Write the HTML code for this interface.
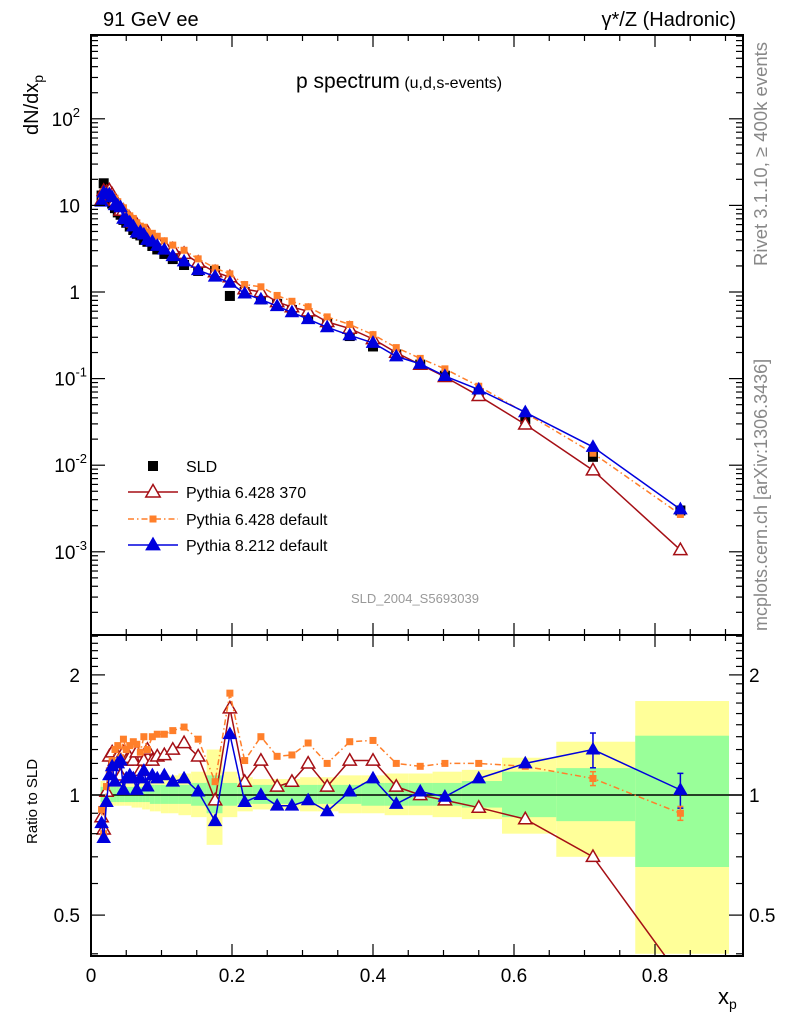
<!DOCTYPE html>
<html><head><meta charset="utf-8"><style>
body{margin:0;background:#fff}
svg{display:block;font-family:"Liberation Sans",sans-serif}
</style></head><body>
<svg id="c" width="786" height="1024" viewBox="0 0 786 1024"></svg>
<script>
const xs=[0.015,0.018,0.022,0.026,0.030,0.034,0.038,0.042,0.046,0.050,0.055,0.060,0.065,0.070,0.075,0.080,0.087,0.094,0.104,0.116,0.132,0.152,0.176,0.197,0.218,0.241,0.264,0.285,0.308,0.335,0.367,0.400,0.433,0.467,0.502,0.550,0.616,0.712,0.836];
const sld=[13,18,14,12,10.5,9.3,8.3,7.8,6.8,6.3,5.7,5.2,4.7,4.5,4.0,3.8,3.4,3.1,2.75,2.4,2.05,1.75,1.75,0.9,1.0,0.82,0.73,0.62,0.5,0.43,0.31,0.235,0.19,0.145,0.108,0.068,0.034,0.0125,0.003];
const rOrange=[0.92,0.80,1.05,1.15,1.22,1.30,1.33,1.24,1.38,1.30,1.33,1.36,1.34,1.28,1.40,1.30,1.40,1.42,1.42,1.45,1.48,1.38,1.08,1.80,1.22,1.40,1.25,1.26,1.35,1.20,1.36,1.37,1.20,1.18,1.20,1.20,1.18,1.10,0.90];
const rRed=[0.88,0.82,1.02,1.25,1.28,1.22,1.25,1.12,1.28,1.22,1.24,1.22,1.28,1.15,1.22,1.30,1.22,1.25,1.26,1.30,1.35,1.25,0.97,1.65,1.08,1.22,1.05,1.08,1.20,1.05,1.22,1.22,1.05,1.00,0.97,0.93,0.87,0.70,0.35];
const rBlue=[0.85,0.78,0.96,1.12,1.18,1.08,1.20,1.22,1.03,1.10,1.12,1.10,1.03,1.10,1.15,1.05,1.12,1.10,1.12,1.08,1.10,1.02,0.86,1.42,0.96,1.00,0.94,0.94,0.97,0.91,1.02,1.10,0.95,1.02,0.99,1.10,1.20,1.30,1.03];
const errTot=[0.07,0.07,0.06,0.06,0.06,0.06,0.06,0.06,0.06,0.06,0.06,0.07,0.07,0.07,0.08,0.08,0.09,0.09,0.10,0.10,0.11,0.12,0.25,0.12,0.09,0.08,0.08,0.08,0.09,0.09,0.10,0.10,0.11,0.11,0.12,0.13,0.20,0.30,0.60];
const errStat=[0.04,0.04,0.04,0.04,0.04,0.04,0.04,0.04,0.04,0.04,0.04,0.04,0.04,0.04,0.04,0.04,0.05,0.05,0.05,0.05,0.05,0.06,0.10,0.06,0.05,0.05,0.05,0.05,0.05,0.05,0.05,0.06,0.06,0.06,0.06,0.07,0.12,0.14,0.34];
const xTicks=[0,0.2,0.4,0.6,0.8];
const xTickLabels=["0","0.2","0.4","0.6","0.8"];
const yExps=[2,1,0,-1,-2,-3];
const rTicks=[2,1,0.5];
const rTickLabels=["2","1","0.5"];

const L=91,R=743,T=35,M=635,B=956;
const X=v=>L+v*705;
const Y=v=>292-86.6*Math.log10(v);
const RY=v=>795-399*Math.log10(v);
const svg=document.getElementById('c');
const NS='http://www.w3.org/2000/svg';
function mk(tag,at,parent){const e=document.createElementNS(NS,tag);for(const k in at)e.setAttribute(k,at[k]);(parent||svg).appendChild(e);return e;}
function txt(s,x,y,size,extra,parent){const e=mk('text',Object.assign({x:x,y:y,'font-size':size},extra||{}),parent);e.innerHTML=s;return e;}

const defs=mk('defs',{});
const cp1=mk('clipPath',{id:'cm'},defs);mk('rect',{x:L,y:T,width:R-L,height:M-T},cp1);
const cp2=mk('clipPath',{id:'cr'},defs);mk('rect',{x:L,y:M,width:R-L,height:B-M},cp2);

const edges=[0.0135];
for(let i=0;i<xs.length-1;i++)edges.push((xs[i]+xs[i+1])/2);
edges.push(0.905);
edges[edges.length-2]=0.772;edges[edges.length-3]=0.66;

const gb=mk('g',{'clip-path':'url(#cr)'});

for(let i=0;i<xs.length;i++){
  const x0=X(edges[i]),x1=X(edges[i+1]);
  let r=mk('rect',{x:x0,y:RY(1+errTot[i]*1.2),width:x1-x0,height:RY(1-errTot[i])-RY(1+errTot[i]*1.2),fill:'#ffff99'},gb);
  
}
for(let i=0;i<xs.length;i++){
  const x0=X(edges[i]),x1=X(edges[i+1]);
  let r=mk('rect',{x:x0,y:RY(1+errStat[i]*1.2),width:x1-x0,height:RY(1-errStat[i])-RY(1+errStat[i]*1.2),fill:'#99ff99'},gb);
  
}
mk('line',{x1:L,x2:R,y1:RY(1),y2:RY(1),stroke:'#000','stroke-width':1.5},gb);

function tri(g,x,y,s,fill,stroke){return mk('polygon',{points:`${x},${y-s*0.62} ${x-s*0.6},${y+s*0.42} ${x+s*0.6},${y+s*0.42}`,fill:fill,stroke:stroke,'stroke-width':1.5},g);}
function series(clip,vals,yf,color,dash,marker,name){
  const g=mk('g',{'clip-path':clip});
  
  const pts=xs.map((x,i)=>X(x)+','+yf(vals[i])).join(' ');
  const pl=mk('polyline',{points:pts,fill:'none',stroke:color,'stroke-width':1.5,'stroke-dasharray':dash||''},g);
  
  xs.forEach((x,i)=>{
    const px=X(x),py=yf(vals[i]);let m;
    if(marker==='sq') m=mk('rect',{x:px-3.5,y:py-3.5,width:7,height:7,fill:color},g);
    else if(marker==='otri') m=tri(g,px,py,11,'#fff',color);
    else m=tri(g,px,py,10,color,color);
    
  });
}
const gs=mk('g',{'clip-path':'url(#cm)'});

xs.forEach((x,i)=>{const r=mk('rect',{x:X(x)-5,y:Y(sld[i])-5,width:10,height:10,fill:'#000'},gs);
  });
series('url(#cm)',sld.map((v,i)=>v*rRed[i]),Y,'#a50f15','', 'otri','pythia6-370');
series('url(#cm)',sld.map((v,i)=>v*rOrange[i]),Y,'#ff7f2a','6 3 1.5 3','sq','pythia6-default');
series('url(#cm)',sld.map((v,i)=>v*rBlue[i]),Y,'#0000dd','','tri','pythia8-default');
series('url(#cr)',rRed,RY,'#a50f15','','otri','ratio-pythia6-370');
series('url(#cr)',rOrange,RY,'#ff7f2a','6 3 1.5 3','sq','ratio-pythia6-default');
series('url(#cr)',rBlue,RY,'#0000dd','','tri','ratio-pythia8-default');
const eb=mk('g',{});
[[rBlue,'#0000dd',0.1],[rOrange,'#ff7f2a',0.04]].forEach(([a,c,e])=>{
  for(const i of [37,38]){const px=X(xs[i]);
    mk('line',{x1:px,x2:px,y1:RY(a[i]*(1+e)),y2:RY(a[i]*(1-e)),stroke:c,'stroke-width':1.5},eb);
    mk('line',{x1:px-3,x2:px+3,y1:RY(a[i]*(1+e)),y2:RY(a[i]*(1+e)),stroke:c,'stroke-width':1.5},eb);
    mk('line',{x1:px-3,x2:px+3,y1:RY(a[i]*(1-e)),y2:RY(a[i]*(1-e)),stroke:c,'stroke-width':1.5},eb);}
});

const fr=mk('g',{stroke:'#000','stroke-width':2,fill:'none'});

mk('rect',{x:L,y:T,width:R-L,height:M-T},fr);
mk('rect',{x:L,y:M,width:R-L,height:B-M},fr);
const tk=mk('g',{stroke:'#000','stroke-width':1.2});

for(let k=0;k<=18;k++){const v=k*0.05;const px=X(v);if(px>R)break;const len=(k%4===0)?12:6;
  for(const [y0,d] of [[T,1],[M,-1],[M,1],[B,-1]]) mk('line',{x1:px,x2:px,y1:y0,y2:y0+d*len},tk);}
for(let e=-4;e<=2;e++){for(let m=1;m<10;m++){const v=m*Math.pow(10,e);const py=Y(v);if(py<T||py>M)continue;const len=m===1?14:7;
  mk('line',{x1:L,x2:L+len,y1:py,y2:py},tk);mk('line',{x1:R,x2:R-len,y1:py,y2:py},tk);}}
const rt=[0.4,0.5,0.6,0.7,0.8,0.9,1,1.1,1.2,1.3,1.4,1.5,1.6,1.7,1.8,1.9,2,2.1,2.2,2.3,2.4,2.5];
rt.forEach(v=>{const py=RY(v);if(py<M||py>B)return;const len=(v===1||v===2||v===0.5)?14:7;
  mk('line',{x1:L,x2:L+len,y1:py,y2:py},tk);mk('line',{x1:R,x2:R-len,y1:py,y2:py},tk);});

xTicks.forEach((v,i)=>{const t=txt(xTickLabels[i],X(v),982,19,{'text-anchor':'middle'});});
yExps.forEach(e=>{const py=Y(Math.pow(10,e));let s;
  if(e===0)s='1';else if(e===1)s='10';else s='10<tspan font-size="13" dy="-9">'+e+'</tspan>';
  const t=txt(s,80,py+7,19,{'text-anchor':'end'});if(e===2||e<0){t.setAttribute('x',e===2?80:87);}
  });
rTicks.forEach((v,i)=>{const py=RY(v)+7;
  let t=txt(rTickLabels[i],80,py,19,{'text-anchor':'end'});
  t=txt(rTickLabels[i],749,py,19,{});});
let t;
t=txt('91 GeV ee',103,26,20,{});
t=txt('γ*/Z (Hadronic)',736,26,20,{'text-anchor':'end'});
t=txt('p spectrum<tspan font-size="16"> (u,d,s-events)</tspan>',296,88,21,{});
t=txt('dN/dx<tspan font-size="14" dy="5">p</tspan>',0,0,20,{transform:'translate(38,135) rotate(-90)'});
t=txt('Ratio to SLD',0,0,15,{transform:'translate(37,844) rotate(-90)'});
t=txt('x<tspan font-size="14" dy="5">p</tspan>',718,1004,22,{});
t=txt('Rivet 3.1.10, ≥ 400k events',0,0,18.5,{fill:'#888',transform:'translate(767,266) rotate(-90)'});
t=txt('mcplots.cern.ch [arXiv:1306.3436]',0,0,18,{fill:'#888',transform:'translate(767,631) rotate(-90)'});
t=txt('SLD_2004_S5693039',415,603,13,{fill:'#999','text-anchor':'middle'});

const lg=mk('g',{});
const rows=[['SLD',466],['Pythia 6.428 370',492],['Pythia 6.428 default',519],['Pythia 8.212 default',545]];
let e;
e=mk('rect',{x:148,y:461,width:10,height:10,fill:'#000'},lg);
mk('line',{x1:128,x2:178,y1:492,y2:492,stroke:'#a50f15','stroke-width':1.5},lg);tri(lg,153,492,12,'#fff','#a50f15');
mk('line',{x1:128,x2:178,y1:519,y2:519,stroke:'#ff7f2a','stroke-width':1.5,'stroke-dasharray':'6 3 1.5 3'},lg);mk('rect',{x:149.5,y:515.5,width:7,height:7,fill:'#ff7f2a'},lg);
mk('line',{x1:128,x2:178,y1:545,y2:545,stroke:'#0000dd','stroke-width':1.5},lg);tri(lg,153,545,11,'#0000dd','#0000dd');
rows.forEach(([s,y])=>{const tt=txt(s,186,y+6,16,{},lg);});
</script>
</body></html>
